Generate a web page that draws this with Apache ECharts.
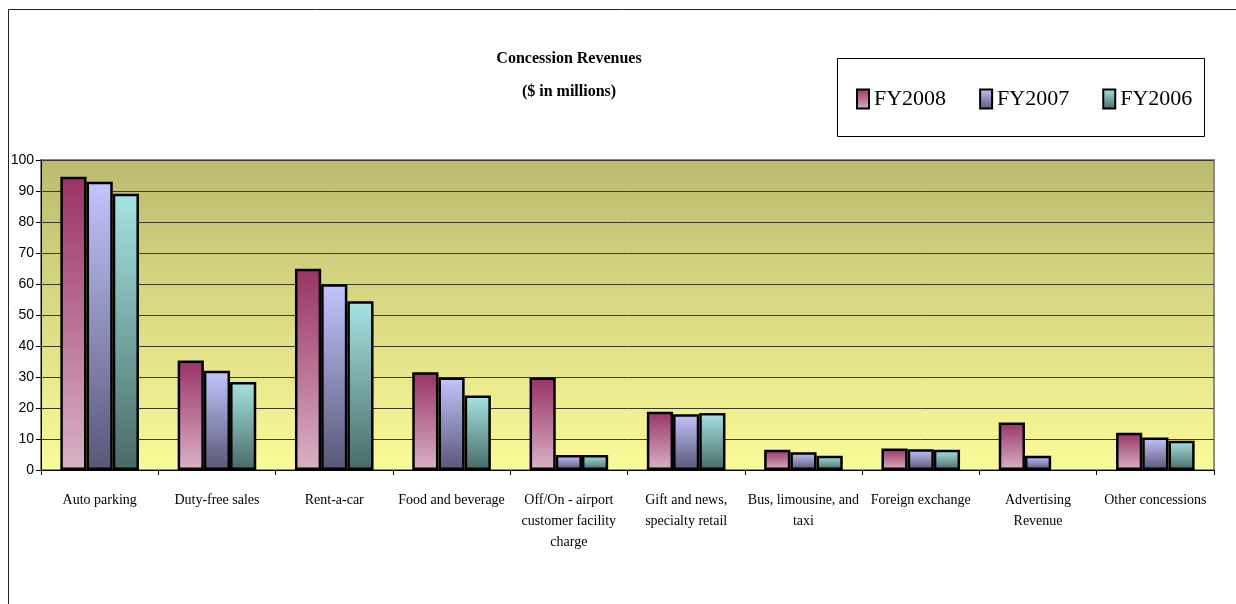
<!DOCTYPE html>
<html>
<head>
<meta charset="utf-8">
<title>Concession Revenues</title>
<script src="https://cdn.jsdelivr.net/npm/echarts@6/dist/echarts.min.js"></script>
<style>
  html, body { margin: 0; padding: 0; background: #ffffff; }
  #chart { width: 1236px; height: 604px; }
</style>
</head>
<body>
<div id="chart"></div>
<script>
// Concession revenue categories (x axis)
var categories = [
  'Auto parking',
  'Duty-free sales',
  'Rent-a-car',
  'Food and beverage',
  'Off/On - airport\ncustomer facility\ncharge',
  'Gift and news,\nspecialty retail',
  'Bus, limousine, and\ntaxi',
  'Foreign exchange',
  'Advertising\nRevenue',
  'Other concessions'
];

// Revenues by fiscal year, $ in millions
var fy2008 = [94.6, 35.3, 64.9, 31.5, 29.8, 18.8, 6.5, 6.9, 15.3, 12.0];
var fy2007 = [93.0, 32.0, 59.9, 29.8, 4.8, 18.0, 5.7, 6.7, 4.6, 10.5];
var fy2006 = [89.1, 28.4, 54.4, 24.0, 4.8, 18.4, 4.6, 6.5, 0, 9.4];

var seriesNames = ['FY2008', 'FY2007', 'FY2006'];

// Value axis ticks
var yMin = 0, yMax = 100, yStep = 10;

function vGrad(top, bottom) {
  return new echarts.graphic.LinearGradient(0, 0, 0, 1, [
    { offset: 0, color: top },
    { offset: 1, color: bottom }
  ]);
}

var barFills = [
  vGrad('#993366', '#DAB2C6'),
  vGrad('#C4C4FF', '#575777'),
  vGrad('#A6E4E2', '#486A67')
];

// A zero value draws no bar at all, so drop its outline too
function barData(values) {
  return values.map(function (v) {
    return v === 0 ? { value: v, itemStyle: { borderWidth: 0 } } : v;
  });
}

function barSeries(name, values, fill) {
  return {
    name: name,
    type: 'bar',
    data: barData(values),
    barGap: '0%',
    barCategoryGap: '33%',
    itemStyle: { color: fill, borderColor: '#000000', borderWidth: 2.5 },
    emphasis: { disabled: true }
  };
}

var chart = echarts.init(document.getElementById('chart'), null, { renderer: 'canvas' });

chart.setOption({
  animation: false,
  backgroundColor: '#ffffff',
  graphic: [
    {
      type: 'rect',
      z: -10,
      shape: { x: 8.5, y: 9.5, width: 1240, height: 610 },
      style: { fill: '#ffffff', stroke: '#222222', lineWidth: 1 }
    },
    {
      type: 'rect',
      z: -5,
      shape: { x: 837.5, y: 58.5, width: 367, height: 78 },
      style: { fill: '#ffffff', stroke: '#000000', lineWidth: 1 }
    }
  ],
  title: {
    text: 'Concession Revenues\n($ in millions)',
    left: 564,
    top: 37,
    textAlign: 'center',
    textStyle: {
      fontFamily: 'Liberation Serif',
      fontWeight: 'bold',
      fontSize: 16,
      lineHeight: 33,
      color: '#000000'
    }
  },
  legend: {
    data: seriesNames,
    icon: 'rect',
    left: 851,
    top: 83,
    itemWidth: 12,
    itemHeight: 19,
    itemGap: 33,
    selectedMode: false,
    itemStyle: { borderColor: '#000000', borderWidth: 2 },
    textStyle: {
      fontFamily: 'Liberation Serif',
      fontSize: 22,
      color: '#000000'
    }
  },
  grid: {
    left: 41,
    right: 22,
    top: 160,
    bottom: 134,
    containLabel: false,
    show: true,
    borderColor: '#8a8a8a',
    borderWidth: 2,
    backgroundColor: vGrad('#BBBA6F', '#FCFB99')
  },
  xAxis: {
    type: 'category',
    data: categories,
    boundaryGap: true,
    axisLine: { lineStyle: { color: '#000000', width: 1 } },
    axisTick: { show: true, length: 5, interval: 0, lineStyle: { color: '#000000' } },
    axisLabel: {
      interval: 0,
      margin: 20,
      fontFamily: 'Liberation Serif',
      fontSize: 14,
      lineHeight: 21,
      color: '#000000',
      align: 'center'
    },
    splitLine: { show: false }
  },
  yAxis: {
    type: 'value',
    min: yMin,
    max: yMax,
    interval: yStep,
    axisLine: { show: true, lineStyle: { color: '#000000', width: 1 } },
    axisTick: { show: true, length: 5, lineStyle: { color: '#000000' } },
    axisLabel: {
      margin: 7,
      fontFamily: 'Liberation Sans',
      fontSize: 14,
      color: '#000000'
    },
    splitLine: { show: true, lineStyle: { color: '#3a3a2c', width: 1 } }
  },
  series: [
    barSeries(seriesNames[0], fy2008, barFills[0]),
    barSeries(seriesNames[1], fy2007, barFills[1]),
    barSeries(seriesNames[2], fy2006, barFills[2])
  ]
});
</script>
</body>
</html>
